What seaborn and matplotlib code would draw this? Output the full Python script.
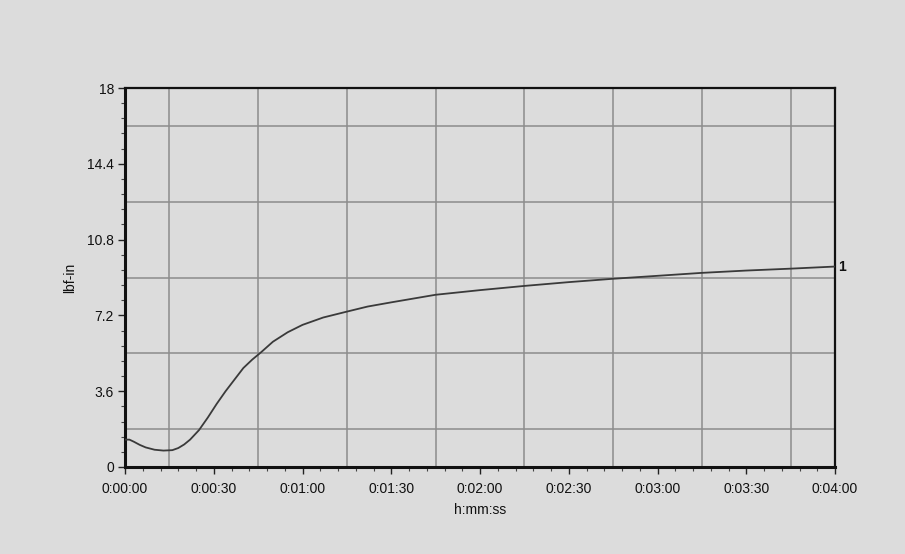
import seaborn as sns
import pandas as pd
import numpy as np
import matplotlib.pyplot as plt
from matplotlib.ticker import FuncFormatter, AutoMinorLocator

# torque readings (seconds, lbf-in)
t_sec = [0, 1.5, 3, 5, 7, 10, 13, 16, 18, 20, 22, 25, 28, 31, 34, 37, 40,
         43, 46, 50, 55, 60, 67, 75, 82, 90, 105, 120, 135, 150, 165, 180,
         195, 210, 225, 240]
torque = [1.3, 1.3, 1.2, 1.05, 0.93, 0.82, 0.78, 0.8, 0.9, 1.07, 1.3, 1.75,
          2.35, 3.0, 3.6, 4.15, 4.7, 5.1, 5.45, 5.95, 6.4, 6.75, 7.1, 7.38,
          7.62, 7.82, 8.18, 8.4, 8.6, 8.78, 8.94, 9.08, 9.22, 9.33, 9.42, 9.52]
x_ticks = [0, 30, 60, 90, 120, 150, 180, 210, 240]
y_ticks = [0, 3.6, 7.2, 10.8, 14.4, 18]
series_label = "1"

data = pd.DataFrame({'t': t_sec, 'torque': torque})

sns.set_style('white')
plt.rcParams['font.family'] = ['Liberation Sans', 'DejaVu Sans']

paper = '#dcdcdc'
fig = plt.figure(figsize=(9.05, 5.54), dpi=100, facecolor=paper)
ax = fig.add_axes([125 / 905, 1 - 467 / 554, 710 / 905, 379 / 554])
ax.set_facecolor(paper)

# grid lines sit halfway between the labelled ticks
for gx in np.array(x_ticks[:-1]) + 15:
    ax.axvline(gx, color='#8c8c8c', lw=1.1, zorder=1)
for gy in np.array(y_ticks[:-1]) + 1.8:
    ax.axhline(gy, color='#8c8c8c', lw=1.1, zorder=1)

sns.lineplot(data=data, x='t', y='torque', ax=ax, color='#3a3a3a', lw=1.3, zorder=3)

ax.set_xlim(0, 240)
ax.set_ylim(0, 18)
ax.set_xticks(x_ticks)
ax.set_yticks(y_ticks)
ax.xaxis.set_major_formatter(FuncFormatter(
    lambda v, p: f"{int(v)//3600}:{int(v)%3600//60:02d}:{int(v)%60:02d}"))
ax.yaxis.set_major_formatter(FuncFormatter(lambda v, p: f"{v:g}"))
ax.xaxis.set_minor_locator(AutoMinorLocator(5))
ax.yaxis.set_minor_locator(AutoMinorLocator(5))
ax.tick_params(which='major', direction='out', length=5, width=1, color='#222222',
               labelsize=10, labelcolor='#111111')
ax.tick_params(axis='x', which='major', pad=6)
ax.tick_params(axis='y', which='major', pad=3)
ax.tick_params(which='minor', direction='out', length=3, width=0.8, color='#444444')
ax.tick_params(axis='both', which='both', bottom=True, left=True)

for side in ['left', 'bottom']:
    ax.spines[side].set_linewidth(2.2)
    ax.spines[side].set_color('#111111')
for side in ['top', 'right']:
    ax.spines[side].set_linewidth(1.6)
    ax.spines[side].set_color('#111111')

ax.set_xlabel('h:mm:ss', fontsize=10, color='#111111', labelpad=5)
ax.set_ylabel('lbf-in', fontsize=10, color='#111111', labelpad=7)

ax.text(1.004, torque[-1], series_label, transform=ax.get_yaxis_transform(),
        ha='left', va='center', fontsize=10, color='#111111', fontweight='bold')

fig.savefig('out.png', dpi=100, facecolor=paper)
